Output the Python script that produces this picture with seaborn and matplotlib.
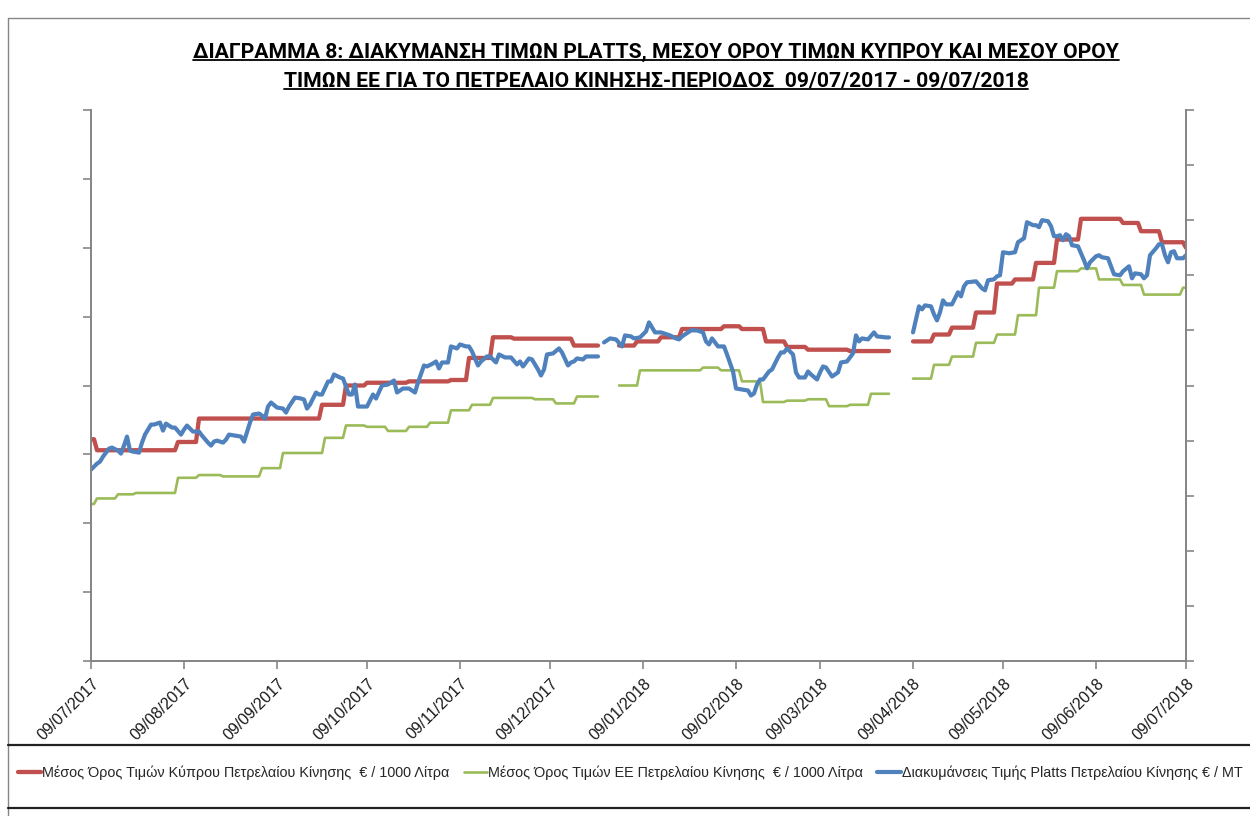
import numpy as np
import pandas as pd
import matplotlib
matplotlib.use("Agg")
import matplotlib.pyplot as plt
from matplotlib.lines import Line2D
import seaborn as sns

start = pd.Timestamp("2017-07-09")
end = pd.Timestamp("2018-07-09")

# days after 09/07/2017 at which the weekly average changed, and the new value (EUR / 1000 L)
cy_days = [0, 2, 29, 36, 77, 85, 92, 106, 120, 126, 134, 141, 161, 176, 182, 190, 197, 211,
           217, 225, 232, 239, 253, 274, 281, 287, 295, 302, 308, 315, 322, 330, 344, 350, 357, 365]
cy_vals = [1161, 1153, 1159, 1176, 1186, 1200, 1202, 1203, 1204, 1220, 1235, 1234, 1229, 1229,
           1232, 1235, 1241, 1243, 1241, 1232, 1228, 1226, 1225, 1232, 1237, 1242, 1253, 1274,
           1277, 1289, 1306, 1321, 1318, 1312, 1304, 1300]

eu_days = [0, 2, 9, 15, 29, 36, 44, 57, 64, 78, 85, 92, 99, 106, 113, 120, 127, 134, 148, 155,
           162, 176, 183, 204, 210, 217, 224, 232, 239, 246, 253, 260, 274, 281, 287, 295, 302,
           309, 316, 322, 330, 336, 344, 351, 364]
eu_vals = [1114, 1118, 1121, 1122, 1133, 1135, 1134, 1140, 1151, 1162, 1171, 1170, 1167, 1170,
           1173, 1182, 1186, 1191, 1190, 1187, 1192, 1200, 1211, 1213, 1211, 1203, 1188, 1189,
           1190, 1185, 1186, 1194, 1205, 1215, 1221, 1231, 1237, 1251, 1271, 1283, 1285, 1277,
           1273, 1266, 1271]

# Platts diesel quotation (EUR / MT), days after 09/07/2017
platts_days = [0, 2, 3, 4, 6, 7, 9, 10, 11, 12, 13, 14, 16, 17, 18, 20, 21, 23, 24, 25, 27, 28,
               30, 31, 32, 34, 36, 37, 39, 40, 41, 42, 44, 45, 46, 48, 50, 51, 53, 54, 56, 57,
               58, 59, 60, 62, 64, 65, 66, 68, 70, 71, 72, 73, 75, 76, 77, 79, 80, 81, 83, 84,
               86, 87, 88, 89, 91, 92, 94, 95, 97, 99, 101, 102, 104, 106, 108, 109, 111, 112,
               114, 115, 116, 117, 119, 120, 122, 123, 125, 126, 127, 129, 130, 132, 133, 135,
               136, 138, 140, 142, 143, 144, 146, 147, 149, 150, 151, 152, 154, 156, 157, 159,
               160, 161, 162, 164, 165, 166, 169,
               171, 173, 175, 177, 178, 180, 181, 183, 185, 186, 188, 190, 191, 193, 195, 196,
               197, 199, 200, 202, 204, 205, 206, 207, 209, 211, 212, 214, 215, 217, 219, 220,
               221, 222, 223, 224, 226, 227, 229, 230, 231, 232, 234, 235, 236, 238, 239, 240,
               242, 243, 244, 245, 247, 249, 250, 252, 254, 255, 256, 257, 259, 261, 262, 265,
               266,
               274, 276, 277, 278, 280, 281, 282, 283, 284, 285, 287, 288, 289, 290, 291, 292,
               295, 297, 298, 299, 301, 302, 303, 304, 306, 308, 309, 311, 312, 314, 315, 316,
               317, 319, 320, 321, 322, 323, 324, 325, 326, 327, 329, 330, 331, 332, 333, 335,
               336, 337, 339, 340, 341, 343, 344, 346, 347, 348, 350, 351, 352, 353, 355, 356,
               357, 358, 359, 360, 361, 362, 364, 365]
platts_vals = [391, 397, 399, 404, 412, 413, 410, 407, 415, 424, 410, 409, 408, 418, 426, 436,
               436, 438, 430, 437, 433, 433, 426, 431, 435, 429, 429, 425, 418, 415, 419, 420,
               418, 421, 426, 425, 424, 419, 438, 446, 447, 445, 442, 454, 458, 453, 452, 448,
               454, 463, 462, 461, 452, 456, 468, 466, 466, 479, 479, 486, 483, 482, 466, 466,
               476, 454, 454, 454, 466, 462, 475, 476, 480, 468, 472, 472, 468, 478, 495, 494,
               497, 499, 492, 498, 498, 514, 512, 516, 514, 514, 509, 495, 499, 504, 504, 498,
               506, 503, 503, 496, 499, 494, 502, 501, 491, 485, 491, 506, 507, 512, 508, 495,
               498, 499, 502, 501, 504, 504, 504,
               518, 522, 521, 514, 525, 524, 522, 523, 529, 538, 528, 528, 527, 525, 522, 521,
               524, 528, 530, 530, 528, 519, 516, 522, 514, 514, 506, 489, 472, 471, 470, 465,
               467, 476, 481, 481, 489, 491, 503, 508, 508, 512, 506, 488, 483, 483, 489, 486,
               481, 488, 494, 493, 484, 488, 498, 499, 507, 525, 519, 522, 521, 528, 524, 523,
               523,
               528, 554, 551, 555, 554, 546, 540, 548, 560, 556, 556, 562, 568, 564, 574, 578,
               579, 572, 570, 580, 581, 584, 585, 608, 607, 608, 618, 622, 638, 635, 635, 633,
               640, 639, 634, 624, 624, 625, 620, 626, 624, 615, 614, 607, 600, 592, 598, 604,
               605, 603, 602, 594, 586, 585, 589, 594, 582, 587, 586, 582, 585, 605, 612, 616,
               616, 605, 598, 608, 609, 602, 602, 605]

# holiday windows with no data (days after start)
gaps = [(170, 175), (267, 273)]

cy_label = "Μέσος Όρος Τιμών Κύπρου Πετρελαίου Κίνησης  € / 1000 Λίτρα"
eu_label = "Μέσος Όρος Τιμών ΕΕ Πετρελαίου Κίνησης  € / 1000 Λίτρα"
platts_label = "Διακυμάνσεις Τιμής Platts Πετρελαίου Κίνησης € / MT"
title_lines = ["ΔΙΑΓΡΑΜΜΑ 8: ΔΙΑΚΥΜΑΝΣΗ ΤΙΜΩΝ PLATTS, ΜΕΣΟΥ ΟΡΟΥ ΤΙΜΩΝ ΚΥΠΡΟΥ ΚΑΙ ΜΕΣΟΥ ΟΡΟΥ",
               "ΤΙΜΩΝ ΕΕ ΓΙΑ ΤΟ ΠΕΤΡΕΛΑΙΟ ΚΙΝΗΣΗΣ-ΠΕΡΙΟΔΟΣ  09/07/2017 - 09/07/2018"]

RED, GREEN, BLUE = "#C0504D", "#9BBB59", "#4F81BD"
GREY = "#868686"

sns.set_style("white")
plt.rcParams["font.family"] = ["Liberation Sans", "DejaVu Sans"]


def seg_id(days):
    days = np.asarray(days)
    return sum((days >= g0).astype(int) for g0, g1 in gaps)


def step_frame(days, vals):
    s = pd.Series(vals, index=days, dtype=float).reindex(range(0, 366)).ffill()
    df = s.rename("price").rename_axis("day").reset_index()
    for g0, g1 in gaps:
        df.loc[df["day"].between(g0, g1), "price"] = np.nan
    df = df.dropna()
    df["seg"] = seg_id(df["day"])
    df["date"] = start + pd.to_timedelta(df["day"], unit="D")
    return df


cy = step_frame(cy_days, cy_vals)
eu = step_frame(eu_days, eu_vals)
pl = pd.DataFrame({"day": platts_days, "price": platts_vals})
pl["seg"] = seg_id(pl["day"])
pl["date"] = start + pd.to_timedelta(pl["day"], unit="D")

W, H = 1250, 816
fig = plt.figure(figsize=(W / 100, H / 100), dpi=100)
ax = fig.add_axes([91 / W, 1 - 661 / H, (1186 - 91) / W, (661 - 110) / H])
ax2 = ax.twinx()

sns.lineplot(data=eu, x="date", y="price", units="seg", estimator=None,
             color=GREEN, lw=1.9, ax=ax)
sns.lineplot(data=cy, x="date", y="price", units="seg", estimator=None,
             color=RED, lw=3.1, ax=ax)
sns.lineplot(data=pl, x="date", y="price", units="seg", estimator=None,
             color=BLUE, lw=3.0, ax=ax2)

ax.set_ylim(1000, 1400)
ax.set_yticks(np.arange(1000, 1401, 50))
ax2.set_ylim(200, 750)
ax2.set_yticks(np.arange(200, 751, 55))
ax.set_xlim(start, end)
ticks = pd.date_range(start, end, freq=pd.DateOffset(months=1))
ax.set_xticks(ticks)
ax.set_xticklabels([t.strftime("%d/%m/%Y") for t in ticks], rotation=45, ha="right",
                   va="top", rotation_mode="anchor", fontsize=11.5, color="#1a1a1a")
for a in (ax, ax2):
    a.set_xlabel("")
    a.set_ylabel("")
    a.spines["top"].set_visible(False)
    for s in ("left", "right", "bottom"):
        a.spines[s].set_color(GREY)
        a.spines[s].set_linewidth(1.3)
ax.tick_params(axis="y", left=True, length=6, width=1.2, color=GREY, labelleft=False)
ax2.tick_params(axis="y", right=True, length=6, width=1.2, color=GREY, labelright=False)
ax.tick_params(axis="x", bottom=True, length=6, width=1.2, color=GREY, pad=5)


def px(x, y):
    return x / W, 1 - y / H


# title, bold and underlined
title_y = [52, 81]
texts = []
for line, yy in zip(title_lines, title_y):
    texts.append(fig.text(*px(656, yy), line, ha="center", va="center",
                          fontsize=15.2, fontweight="bold", color="black",
                          family=["Roboto", "Liberation Sans", "DejaVu Sans"]))

handles = [Line2D([], [], color=RED, lw=3.1),
           Line2D([], [], color=GREEN, lw=1.9),
           Line2D([], [], color=BLUE, lw=3.0)]
fig.legend(handles, [cy_label, eu_label, platts_label], loc="center",
           bbox_to_anchor=px(630, 773), ncol=3, frameon=False, fontsize=10.4,
           handlelength=1.6, handletextpad=0.08, columnspacing=1.0)

# frame of the document cell
frame = [((8, 18), (8, 816), GREY, 1.0), ((8, 18), (1250, 18), GREY, 1.0),
         ((8, 745), (1250, 745), "#222222", 1.6), ((8, 808), (1250, 808), "#222222", 1.6)]
for (x0, y0), (x1, y1), c, w in frame:
    fig.add_artist(Line2D([x0 / W, x1 / W], [1 - y0 / H, 1 - y1 / H],
                          transform=fig.transFigure, color=c, lw=w))

fig.canvas.draw()
renderer = fig.canvas.get_renderer()
inv = fig.transFigure.inverted()
for t in texts:
    bb = t.get_window_extent(renderer)
    (fx0, fy), (fx1, _) = inv.transform([(bb.x0, bb.y0 + 2), (bb.x1, bb.y0 + 2)])
    fig.add_artist(Line2D([fx0, fx1], [fy, fy], transform=fig.transFigure,
                          color="black", lw=1.3))

fig.savefig("out.png", dpi=100)
